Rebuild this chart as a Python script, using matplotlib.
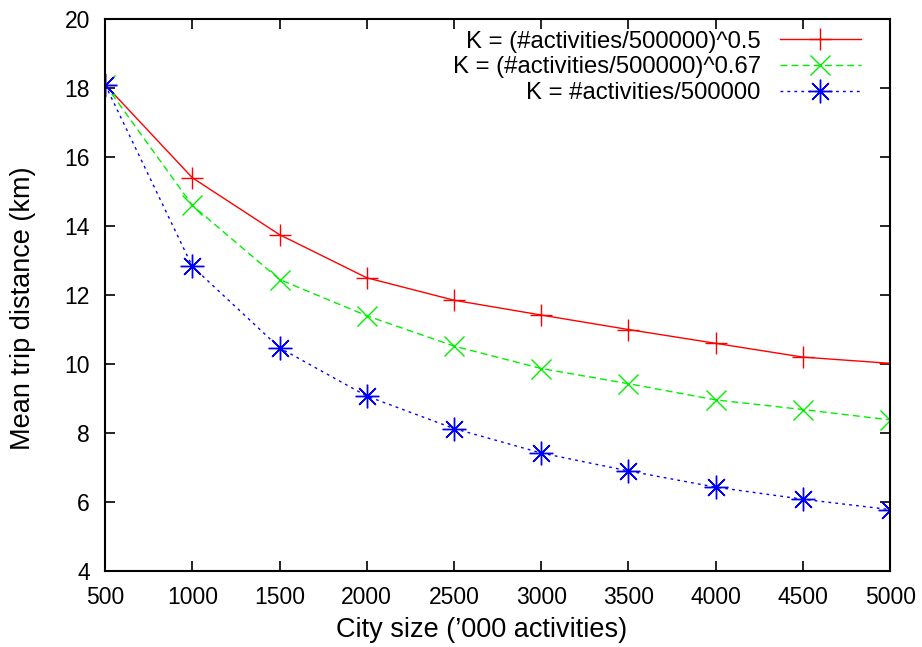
import matplotlib
matplotlib.use('Agg')
import matplotlib.pyplot as plt

plt.rcParams['font.family'] = ['Liberation Sans', 'DejaVu Sans']

city_size = [500, 1000, 1500, 2000, 2500, 3000, 3500, 4000, 4500, 5000]
k_sqrt = [18.1, 15.4, 13.75, 12.5, 11.85, 11.42, 11.0, 10.6, 10.2, 10.02]
k_067 = [18.1, 14.6, 12.45, 11.4, 10.52, 9.87, 9.43, 8.96, 8.68, 8.38]
k_lin = [18.1, 12.83, 10.47, 9.07, 8.13, 7.42, 6.9, 6.43, 6.08, 5.78]

labels = ['K = (#activities/500000)^0.5',
          'K = (#activities/500000)^0.67',
          'K = #activities/500000']

fig = plt.figure(figsize=(9.22, 6.47), dpi=100)
ax = fig.add_axes([0.114, 0.1175, 0.8514, 0.853])

ax.plot(city_size, k_sqrt, color='#ff0000', lw=1, linestyle='-',
        marker='+', markersize=16, markeredgewidth=1, label=labels[0])
ax.plot(city_size, k_067, color='#00f000', lw=1, linestyle=(0, (5, 3)),
        marker='x', markersize=15, markeredgewidth=1, label=labels[1])
ax.plot(city_size, k_lin, color='#0000ff', lw=1, linestyle=(0, (2, 3)),
        marker=(8, 2, 0), markersize=17, markeredgewidth=1, label=labels[2])

ax.set_xlim(500, 5000)
ax.set_ylim(4, 20)
ax.set_xticks(city_size)
ax.set_yticks(range(4, 21, 2))
ax.tick_params(direction='in', top=True, right=True, length=7.5, width=1.2,
               labelsize=16.5, pad=11)
for s in ax.spines.values():
    s.set_linewidth(1.5)

ax.set_xlabel("City size (\u2019000 activities)", fontsize=19.5, va='center')
ax.set_ylabel('Mean trip distance (km)', fontsize=19.5, va='center')
ax.xaxis.set_label_coords(0.479, -0.107)
ax.yaxis.set_label_coords(-0.104, 0.476)

ax.legend(loc='upper right', bbox_to_anchor=(0.963, 0.979), frameon=False,
          markerfirst=False, fontsize=17.2, handlelength=3.4,
          handletextpad=0.8, labelspacing=0.16, borderaxespad=0,
          borderpad=0)

fig.savefig('out.png', dpi=100)
